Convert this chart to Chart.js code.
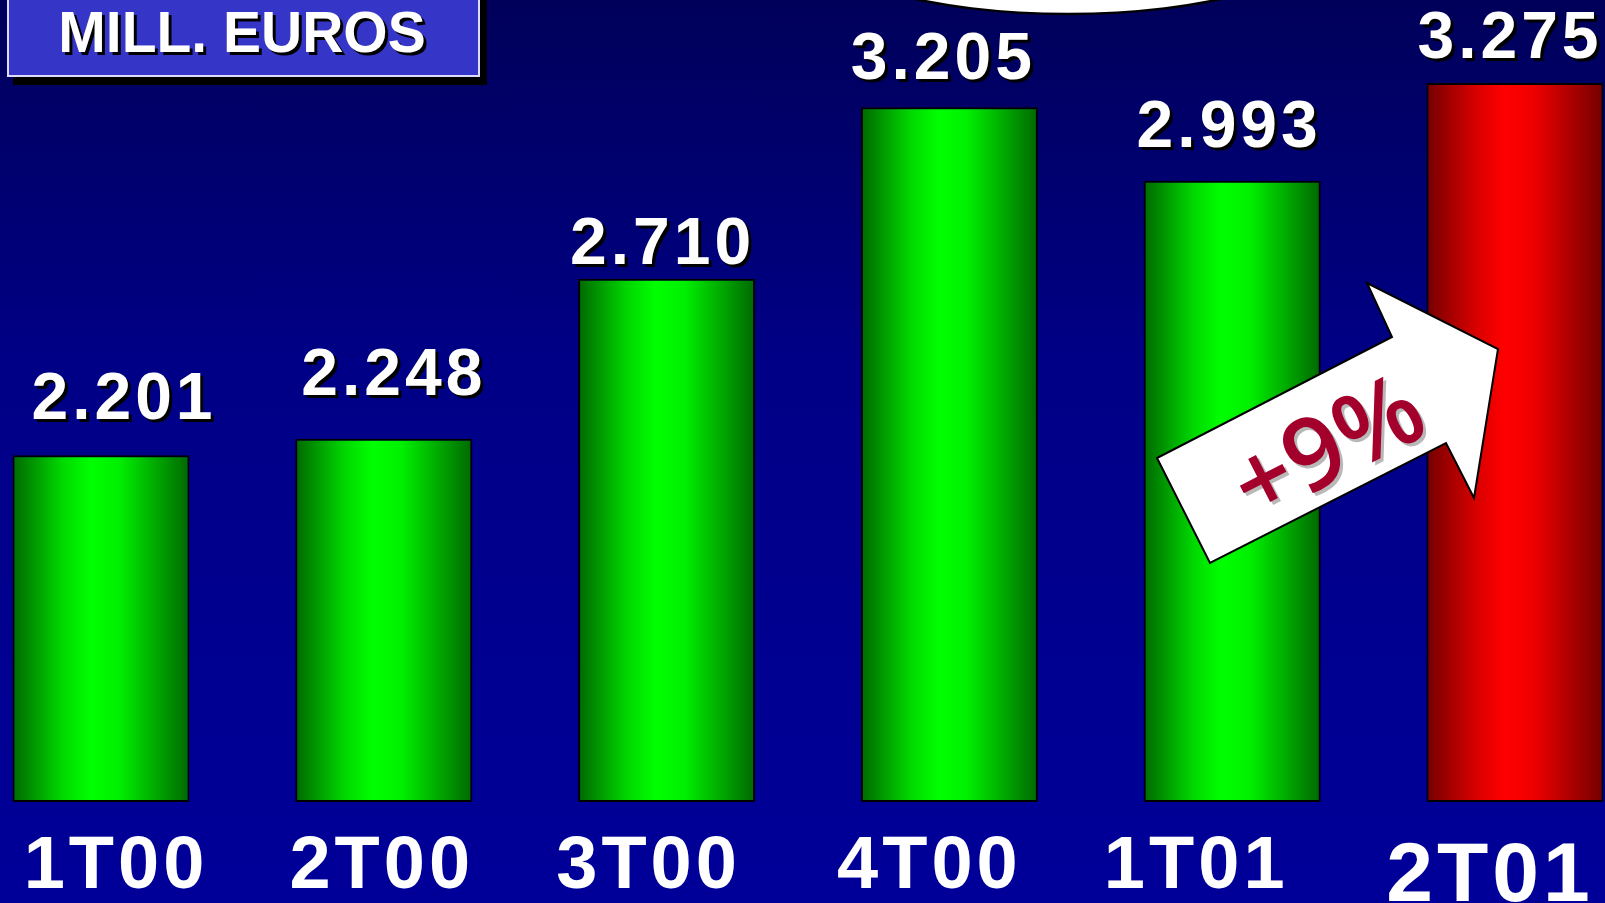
<!DOCTYPE html>
<html>
<head>
<meta charset="utf-8">
<script src="https://cdn.jsdelivr.net/npm/chart.js@4.4.1/dist/chart.umd.min.js"></script>
<style>
  html, body { margin: 0; padding: 0; overflow: hidden; }
  body { width: 1605px; height: 903px; background: linear-gradient(#00005a 0%, #000086 40%, #000099 100%); }
</style>
</head>
<body>
<canvas id="chart" width="1605" height="903"></canvas>
<script>
// Datos (millones de euros por trimestre)
const quarters = ['1T00', '2T00', '3T00', '4T00', '1T01', '2T01'];
const sales = [2201, 2248, 2710, 3205, 2993, 3275];
const yMin = 1200;
const yMax = 3500;
const unitLabel = 'MILL. EUROS';
const growthLabel = '+9%';

// Estilo
const HIGHLIGHT = quarters.length - 1;
const BAR_PCT = 0.626;
const valueNudge = [[23, 36], [10, 44], [-4, 15], [-6, 28], [-3, 34], [-5, 25]]; // dx, gap sobre la barra
const quarterNudge = [15, -2, -18, -20, -36, -25];

function fmt(v) {
  const s = String(v);
  return s.length > 3 ? s.slice(0, -3) + '.' + s.slice(-3) : s;
}

function barFill(c) {
  const chart = c.chart;
  const xs = chart.scales.x;
  const red = c.dataIndex === HIGHLIGHT;
  const stops = red
    ? ['#740000', '#d80000', '#ff0000', '#f00000', '#740000']
    : ['#006800', '#00d800', '#00ff00', '#00f000', '#006800'];
  if (!xs || c.dataIndex === undefined) return stops[2];
  const cx = xs.getPixelForValue(c.dataIndex);
  const step = Math.abs(xs.getPixelForValue(1) - xs.getPixelForValue(0));
  const half = step * BAR_PCT / 2;
  if (!isFinite(cx) || !isFinite(half) || half <= 0) return stops[2];
  const g = chart.ctx.createLinearGradient(cx - half, 0, cx + half, 0);
  [0, 0.28, 0.44, 0.6, 1].forEach((p, i) => g.addColorStop(p, stops[i]));
  return g;
}

const overlay = {
  id: 'overlay',
  afterDatasetsDraw(chart) {
    const ctx = chart.ctx;
    const meta = chart.getDatasetMeta(0);
    const xs = chart.scales.x;

    // óvalo blanco arriba
    ctx.save();
    ctx.beginPath();
    ctx.ellipse(1068, -66, 262, 80, 0, 0, Math.PI * 2);
    ctx.fillStyle = '#ffffff';
    ctx.fill();
    ctx.lineWidth = 2.5;
    ctx.strokeStyle = '#000000';
    ctx.stroke();
    ctx.restore();

    // flecha +9%
    const arrow = [[1157, 458], [1210, 563], [1446, 443], [1474, 498], [1498, 349], [1367, 283], [1392, 337]];
    ctx.save();
    ctx.beginPath();
    arrow.forEach(([x, y], i) => i ? ctx.lineTo(x, y) : ctx.moveTo(x, y));
    ctx.closePath();
    ctx.fillStyle = '#ffffff';
    ctx.fill();
    ctx.lineWidth = 2;
    ctx.strokeStyle = '#000000';
    ctx.lineJoin = 'miter';
    ctx.stroke();
    ctx.translate(1330, 452);
    ctx.rotate(Math.atan2(-120.5, 235.5));
    ctx.font = '600 100px "Open Sans"';
    ctx.textAlign = 'center';
    ctx.textBaseline = 'middle';
    ctx.shadowColor = '#b8b8b8';
    ctx.shadowOffsetX = 3;
    ctx.shadowOffsetY = 3;
    ctx.fillStyle = '#a3002c';
    ctx.fillText(growthLabel, 0, 0);
    ctx.restore();

    // valores sobre las barras
    ctx.save();
    ctx.font = 'bold 66px "Liberation Sans"';
    ctx.letterSpacing = '4px';
    ctx.textAlign = 'center';
    ctx.textBaseline = 'alphabetic';
    ctx.fillStyle = '#ffffff';
    ctx.shadowColor = '#000000';
    ctx.shadowOffsetX = 3;
    ctx.shadowOffsetY = 3;
    meta.data.forEach((bar, i) => {
      const [dx, gap] = valueNudge[i];
      ctx.fillText(fmt(sales[i]), bar.x + dx, bar.y - gap);
    });
    ctx.restore();

    // trimestres
    ctx.save();
    ctx.textAlign = 'center';
    ctx.textBaseline = 'alphabetic';
    ctx.fillStyle = '#ffffff';
    ctx.letterSpacing = '4px';
    quarters.forEach((q, i) => {
      const big = i === HIGHLIGHT;
      ctx.font = 'bold ' + (big ? 84 : 74) + 'px "Liberation Sans"';
      ctx.fillText(q, xs.getPixelForValue(i) + quarterNudge[i], big ? 901 : 888);
    });
    ctx.restore();

    // caja de unidades
    ctx.save();
    ctx.fillStyle = '#000000';
    ctx.fillRect(13, -10, 474, 95);
    ctx.fillStyle = '#3535c8';
    ctx.fillRect(7, -10, 473, 87);
    ctx.lineWidth = 2;
    ctx.strokeStyle = '#dcdcff';
    ctx.strokeRect(8, -10, 471, 86);
    ctx.font = 'bold 57px "Liberation Sans"';
    ctx.textAlign = 'center';
    ctx.textBaseline = 'alphabetic';
    ctx.shadowColor = '#000000';
    ctx.shadowOffsetX = 3;
    ctx.shadowOffsetY = 3;
    ctx.fillStyle = '#ffffff';
    ctx.fillText(unitLabel, 242, 52);
    ctx.restore();
  }
};

new Chart(document.getElementById('chart').getContext('2d'), {
  type: 'bar',
  data: {
    labels: quarters,
    datasets: [{
      data: sales,
      base: yMin,
      backgroundColor: barFill,
      borderColor: '#000000',
      borderWidth: 2,
      borderSkipped: false,
      categoryPercentage: 1,
      barPercentage: BAR_PCT,
      clip: false
    }]
  },
  options: {
    responsive: false,
    animation: false,
    layout: { padding: { left: 101, right: 90, top: 5, bottom: 101 } },
    plugins: { legend: { display: false }, tooltip: { enabled: false } },
    scales: {
      x: { display: false, offset: false },
      y: { display: false, min: yMin, max: yMax }
    }
  },
  plugins: [overlay]
});
</script>
</body>
</html>
